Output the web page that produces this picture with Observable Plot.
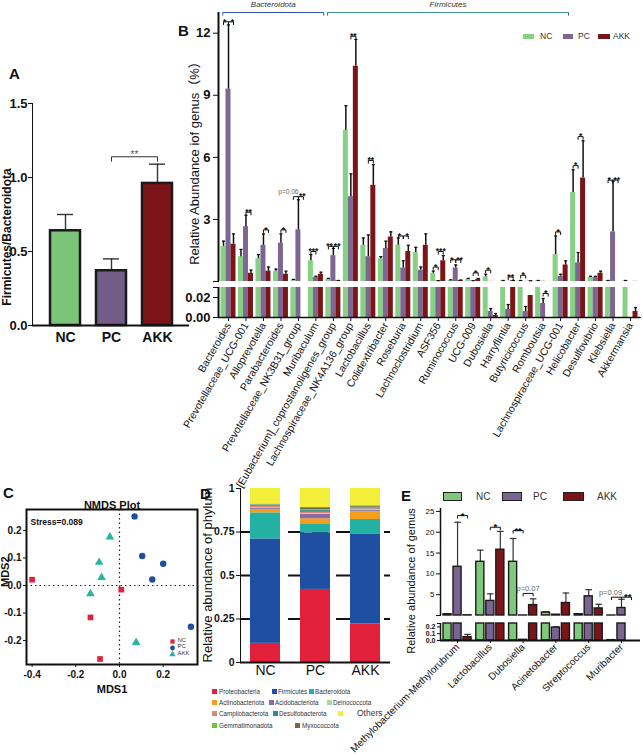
<!DOCTYPE html>
<html>
<head>
<meta charset="utf-8">
<script src="https://cdn.jsdelivr.net/npm/d3@7"></script>
<script src="https://cdn.jsdelivr.net/npm/@observablehq/plot@0.6"></script>
<style>
html,body{margin:0;padding:0;background:#fff;}
#root{position:relative;width:643px;height:755px;overflow:hidden;background:#fff;font-family:"Liberation Sans",Arial,Helvetica,sans-serif;color:#111;}
.t{position:absolute;white-space:nowrap;line-height:1;}
.rot{position:absolute;white-space:nowrap;line-height:1;transform:translate(-50%,-50%) rotate(-90deg);}
.sw{position:absolute;}
</style>
</head>
<body>
<div id="root"></div>
<script>
// ================= DATA =================
const groups = ["NC", "PC", "AKK"];

// Panel A: Firmicutes/Bacteroidota ratio
const ratioMean = [0.64, 0.37, 0.96];
const ratioErrTop = [0.75, 0.45, 1.09];
const ratioSig = [{a: "PC", b: "AKK", y: 1.14, label: "**"}];

// Panel B: genus abundance (%)
const genera = ["Bacteroides", "Prevotellaceae_UCG-001", "Alloprevotella", "Parabacteroides",
  "Prevotellaceae_NK3B31_group", "Muribaculum", "[Eubacterium]_coprostanoligenes_group",
  "Lachnospiraceae_NK4A136_group", "Lactobacillus", "Colidextribacter", "Roseburia",
  "Lachnoclostridium", "ASF356", "Ruminococcus", "UCG-009", "Dubosiella", "Harryflintia",
  "Butyricicoccus", "Romboutsia", "Lachnospiraceae_UCG-001", "Helicobacter", "Desulfovibrio",
  "Klebsiella", "Akkermansia"];
const bNC     = [1.7, 1.2, 1.1, 0.5, 0.08, 1.0, 0.1, 7.3, 1.75, 1.1, 1.75, 1.4, 0.4, 0.06, 0.12, 0.22, 0.04, 0.04, 0.04, 1.3, 4.3, 0.2, 0.04, 0.04];
const bNCErr  = [1.95, 1.55, 1.3, 0.6, 0.1, 1.3, 0.15, 8.5, 2.1, 1.2, 2.1, 1.65, 0.5, 0.08, 0.15, 0.35, 0.05, 0.05, 0.05, 2.2, 5.4, 0.25, 0.05, 0.05];
const bPC     = [9.3, 2.65, 1.75, 1.85, 2.5, 0.2, 1.25, 4.1, 1.2, 1.6, 0.65, 0.55, 0.03, 0.65, 0.03, 0.006, 0.008, 0.006, 0.014, 0.25, 0.9, 0.2, 2.4, 0];
const bPCErr  = [12.4, 3.2, 2.3, 2.3, 3.95, 0.25, 1.6, 5.2, 2.25, 1.95, 1.0, 0.7, 0.04, 0.8, 0.04, 0.009, 0.013, 0.011, 0.019, 0.35, 1.4, 0.25, 4.85, 0];
const bAKK    = [1.8, 0.4, 0.5, 0.35, 0, 0.35, 0.03, 10.4, 4.65, 2.15, 1.45, 1.75, 1.0, 0.05, 0.1, 0.002, 0.04, 0.022, 0, 0.8, 5.0, 0.4, 0, 0.006];
const bAKKErr = [2.3, 0.55, 0.7, 0.5, 0, 0.45, 0.05, 11.7, 5.65, 2.4, 1.75, 2.3, 1.25, 0.07, 0.15, 0.004, 0.05, 0.035, 0, 1.0, 6.8, 0.5, 0, 0.01];
const bPhyla = [
  {name: "Bacteroidota", first: "Bacteroides", last: "Muribaculum"},
  {name: "Firmicutes", first: "[Eubacterium]_coprostanoligenes_group", last: "Lachnospiraceae_UCG-001"}
];
const bSig = [
  {cat: "Bacteroides", a: "NC", b: "PC", y: 12.55, label: "*"},
  {cat: "Bacteroides", a: "PC", b: "AKK", y: 12.55, label: "*"},
  {cat: "Prevotellaceae_UCG-001", a: "PC", b: "AKK", y: 3.35, label: "**"},
  {cat: "Alloprevotella", a: "PC", b: "AKK", y: 2.5, label: "*"},
  {cat: "Parabacteroides", a: "PC", b: "AKK", y: 2.5, label: "*"},
  {cat: "Prevotellaceae_NK3B31_group", a: "NC", b: "PC", y: 4.1, label: "p=0.06"},
  {cat: "Prevotellaceae_NK3B31_group", a: "PC", b: "AKK", y: 4.1, label: "**"},
  {cat: "Muribaculum", a: "NC", b: "PC", y: 1.45, label: "***"},
  {cat: "[Eubacterium]_coprostanoligenes_group", a: "NC", b: "PC", y: 1.7, label: "**"},
  {cat: "[Eubacterium]_coprostanoligenes_group", a: "PC", b: "AKK", y: 1.7, label: "**"},
  {cat: "Lachnospiraceae_NK4A136_group", a: "PC", b: "AKK", y: 11.85, label: "**"},
  {cat: "Lactobacillus", a: "PC", b: "AKK", y: 5.85, label: "**"},
  {cat: "Roseburia", a: "NC", b: "PC", y: 2.2, label: "*"},
  {cat: "Roseburia", a: "PC", b: "AKK", y: 2.2, label: "*"},
  {cat: "ASF356", a: "NC", b: "PC", y: 0.7, label: "*"},
  {cat: "ASF356", a: "PC", b: "AKK", y: 1.45, label: "***"},
  {cat: "Ruminococcus", a: "NC", b: "PC", y: 1.05, label: "*"},
  {cat: "Ruminococcus", a: "PC", b: "AKK", y: 1.05, label: "**"},
  {cat: "UCG-009", a: "PC", b: "AKK", y: 0.42, label: "*"},
  {cat: "Dubosiella", a: "NC", b: "PC", y: 0.55, label: "*"},
  {cat: "Harryflintia", a: "PC", b: "AKK", y: 0.22, label: "**"},
  {cat: "Butyricicoccus", a: "NC", b: "PC", y: 0.3, label: "*"},
  {cat: "Lachnospiraceae_UCG-001", a: "NC", b: "PC", y: 2.4, label: "*"},
  {cat: "Helicobacter", a: "NC", b: "PC", y: 5.6, label: "*"},
  {cat: "Helicobacter", a: "PC", b: "AKK", y: 7.0, label: "*"},
  {cat: "Klebsiella", a: "NC", b: "PC", y: 4.9, label: "*"},
  {cat: "Klebsiella", a: "PC", b: "AKK", y: 4.9, label: "**"}
];
const bSigLow = [{cat: "Romboutsia", a: "PC", b: "AKK", y: 0.024, label: "*"}];

// Panel C: NMDS coordinates [MDS1, MDS2]
const nmdsNC  = [[-0.40, 0.021], [0.008, -0.015], [-0.133, -0.116], [-0.089, -0.267]];
const nmdsPC  = [[0.069, 0.251], [0.104, 0.107], [0.20, 0.079], [0.15, 0.022], [0.327, -0.150]];
const nmdsAKK = [[-0.044, 0.176], [-0.093, 0.084], [-0.082, 0.029], [-0.133, -0.030], [0.076, -0.207]];
const stressText = "Stress=0.089";

// Panel D: phylum composition
const phyla = ["Proteobacteria", "Firmicutes", "Bacteroidota", "Actinobacteriota", "Acidobacteriota",
  "Deinococcota", "Campilobacterota", "Desulfobacterota", "Gemmatimonadota", "Myxococcota", "Others"];
const phylumNC  = [0.11, 0.60, 0.15, 0.02, 0.005, 0.003, 0.01, 0.006, 0.003, 0.003, 0.09];
const phylumPC  = [0.42, 0.325, 0.048, 0.033, 0.025, 0.004, 0.008, 0.01, 0.005, 0.012, 0.11];
const phylumAKK = [0.222, 0.517, 0.083, 0.045, 0.006, 0.004, 0.006, 0.006, 0.003, 0.008, 0.10];

// Panel E: selected genera
const eGenera = ["Methylobacterium-Methylorubrum", "Lactobacillus", "Dubosiella", "Acinetobacter", "Streptococcus", "Muribacter"];
const eNC     = [0.3, 12.9, 12.9, 0.7, 0.3, 0.005];
const eNCErr  = [0.35, 15.7, 18.5, 0.9, 0.35, 0.006];
const ePC     = [11.7, 3.5, 0.01, 0.19, 4.6, 1.8];
const ePCErr  = [22.4, 5.2, 0.012, 0.2, 6.2, 3.9];
const eAKK    = [0.05, 15.8, 2.5, 3.0, 1.7, 0];
const eAKKErr = [0.09, 20.2, 4.0, 5.4, 2.7, 0];
const eSig = [
  {cat: "Methylobacterium-Methylorubrum", a: "PC", b: "AKK", y: 24.0, label: "*"},
  {cat: "Lactobacillus", a: "PC", b: "AKK", y: 21.2, label: "*"},
  {cat: "Dubosiella", a: "NC", b: "PC", y: 20.4, label: "**"},
  {cat: "Dubosiella", a: "PC", b: "AKK", y: 5.3, label: "p=0.07"},
  {cat: "Muribacter", a: "NC", b: "PC", y: 4.4, label: "p=0.09"},
  {cat: "Muribacter", a: "PC", b: "AKK", y: 4.4, label: "**"}
];

// ================= STYLE =================
const FONT = '"Liberation Sans", Arial, Helvetica, sans-serif';
const COL_A = ["#7cc47a", "#745c88", "#7b1419"];
const COL_B = ["#86d183", "#7d6792", "#7a1518"];
const COL_E = ["#80c97c", "#7a6590", "#7b1519"];
const COL_NMDS = ["#e0213a", "#1f4e9e", "#27b4a0"];
const COL_PHYLA = ["#e3203a", "#1f4fa3", "#22b1a2", "#f59d1c", "#8c6aa3", "#a8d89c", "#d8877a", "#2a8c8c", "#74c044", "#6e6a4e", "#f3ee38"];
const base = {background: "transparent", overflow: "visible", fontFamily: FONT, color: "#111"};

const root = document.getElementById("root");
function place(node, left, top, w) {
  const d = document.createElement("div");
  d.style.position = "absolute"; d.style.left = left + "px"; d.style.top = top + "px";
  if (w) d.style.width = w + "px";
  d.appendChild(node); root.appendChild(d); return d;
}
function txt(text, left, top, css) {
  const d = document.createElement("div");
  d.className = "t"; d.textContent = text;
  d.style.cssText = `left:${left}px;top:${top}px;` + (css || "");
  root.appendChild(d); return d;
}
function vtxt(text, cx, cy, css) {
  const d = document.createElement("div");
  d.className = "rot"; d.textContent = text;
  d.style.cssText = `left:${cx}px;top:${cy}px;` + (css || "");
  root.appendChild(d); return d;
}
function swatch(left, top, w, h, color, css) {
  const d = document.createElement("div");
  d.className = "sw";
  d.style.cssText = `left:${left}px;top:${top}px;width:${w}px;height:${h}px;background:${color};` + (css || "");
  root.appendChild(d); return d;
}

// significance brackets for linear-x panels
function sigMarks(list, pos, tick, o) {
  const s = list.map(d => {
    const sib = list.some(q => q !== d && q.cat === d.cat && q.y === d.y);
    const p = d.label.startsWith("p");
    return {x1: pos(d.cat, d.a), x2: pos(d.cat, d.b), y: d.y, label: d.label, p,
      shift: sib ? (p ? o.pSib : (d.a === "NC" ? -1.3 : 1.3)) : 0};
  });
  return [
    Plot.link(s, {x1: "x1", x2: "x2", y1: "y", y2: "y", stroke: "#111", strokeWidth: 1}),
    Plot.link(s, {x1: "x1", x2: "x1", y1: "y", y2: d => d.y - tick, stroke: "#111", strokeWidth: 1}),
    Plot.link(s, {x1: "x2", x2: "x2", y1: "y", y2: d => d.y - tick, stroke: "#111", strokeWidth: 1}),
    ...s.map(d => d.p
      ? Plot.text([d], {x: o.pAnchor === "end" ? "x2" : (q => (q.x1 + q.x2) / 2), y: "y", text: "label", dy: -5, dx: d.shift, textAnchor: o.pAnchor, fontSize: o.p, fill: "#666"})
      : Plot.text([d], {x: q => (q.x1 + q.x2) / 2, y: "y", text: "label", dy: 0, dx: d.shift, fontSize: o.star, fontWeight: "bold", fill: "#111"}))
  ];
}

// ================= PANEL A =================
const aRows = groups.map((g, k) => ({g, v: ratioMean[k], e: ratioErrTop[k]}));
const aBr = ratioSig.flatMap((d, k) => [
  {k, x: d.a, y: d.y - 0.03}, {k, x: d.a, y: d.y}, {k, x: d.b, y: d.y}, {k, x: d.b, y: d.y - 0.03}
]);
const plotA = Plot.plot({
  width: 192, height: 262, marginLeft: 32, marginRight: 3, marginTop: 13, marginBottom: 27,
  style: {...base, fontSize: "14px", fontWeight: "bold"},
  x: {domain: groups, paddingInner: 0.355, paddingOuter: 0.366, label: null, tickSize: 0, tickPadding: 7},
  y: {domain: [0, 1.5], ticks: [0, 0.5, 1, 1.5], tickFormat: () => "", tickSize: 4, line: true, label: null},
  color: {domain: groups, range: COL_A},
  marks: [
    Plot.ruleX(aRows, {x: "g", y1: "v", y2: "e", stroke: "#333", strokeWidth: 1.4}),
    Plot.tickY(aRows, {x: "g", y: "e", stroke: "#333", strokeWidth: 1.4, insetLeft: 7, insetRight: 7}),
    Plot.barY(aRows, {x: "g", y: "v", fill: "g", stroke: "#1b1b1b", strokeWidth: 2.5}),
    Plot.ruleY([0], {stroke: "#111", strokeWidth: 2}),
    Plot.text([0, 0.5, 1, 1.5], {y: d => d, text: d => d.toFixed(1), frameAnchor: "left", dx: -5, textAnchor: "end", fontSize: 13, fontWeight: "bold"}),
    Plot.line(aBr, {x: "x", y: "y", z: "k", stroke: "#333", strokeWidth: 1}),
    Plot.text(ratioSig, {x: "a", y: "y", text: "label", dx: 23, dy: -2, fontSize: 10, fill: "#555", fontWeight: "normal"})
  ]
});
place(plotA, 0, 90, 195);
txt("A", 9, 66, "font-size:15px;font-weight:bold;");
vtxt("Firmicutes/Bacteroidota", 7, 237, "font-size:12px;font-weight:bold;");

// ================= PANEL B =================
const OFF_B = {NC: -0.286, PC: 0, AKK: 0.286};
const HALF_B = 0.143;
const bVals = {NC: bNC, PC: bPC, AKK: bAKK};
const bErrs = {NC: bNCErr, PC: bPCErr, AKK: bAKKErr};
const bRows = genera.flatMap((c, i) => groups.map(g => ({cat: c, i, g, v: bVals[g][i], e: bErrs[g][i], x: i + OFF_B[g]})));
const posB = (cat, g) => genera.indexOf(cat) + OFF_B[g];
const B_X = [-0.572, 23.57];
const B_LOW = 0.03, B_TOP = 13;
const bPhy = bPhyla.map(p => ({name: p.name, x1: genera.indexOf(p.first) - 0.33, x2: genera.indexOf(p.last) + 0.45}));

const plotBTop = Plot.plot({
  width: 493, height: 281, marginLeft: 68, marginRight: 3, marginTop: 12, marginBottom: 0,
  style: {...base, fontSize: "11px"},
  x: {domain: B_X, axis: null},
  y: {domain: [0, B_TOP], ticks: [0, 3, 6, 9, 12], tickFormat: () => "", tickSize: 5, line: true, label: null},
  color: {domain: groups, range: COL_B},
  marks: [
    Plot.rectY(bRows.filter(d => d.v > 0), {x1: d => d.x - HALF_B, x2: d => d.x + HALF_B, y1: () => 0, y2: "v", fill: "g"}),
    Plot.ruleX(bRows.filter(d => d.e > d.v && d.e >= B_LOW), {x: "x", y1: "v", y2: "e", stroke: "#111", strokeWidth: 1.5}),
    Plot.link(bRows.filter(d => d.e > 0 && d.e >= B_LOW), {x1: d => d.x - 0.09, x2: d => d.x + 0.09, y1: "e", y2: "e", stroke: "#111", strokeWidth: 1.2}),
    Plot.ruleX([B_X[0]], {y1: 0, y2: B_TOP, stroke: "#111", strokeWidth: 2}),
    Plot.text([3, 6, 9, 12], {y: d => d, text: d => String(d), frameAnchor: "left", dx: -8, textAnchor: "end", fontSize: 13, fontWeight: "bold"}),
    Plot.link(bPhy.slice(0, 1), {x1: "x1", x2: "x2", y1: () => B_TOP, y2: () => B_TOP, stroke: "#3555b0", strokeWidth: 1.2}),
    Plot.link(bPhy.slice(1), {x1: "x1", x2: "x2", y1: () => B_TOP, y2: () => B_TOP, stroke: "#3f8f98", strokeWidth: 1.2}),
    Plot.link(bPhy, {x1: "x1", x2: "x1", y1: () => B_TOP, y2: () => B_TOP - 0.15, stroke: "#3555b0"}),
    Plot.link(bPhy, {x1: "x2", x2: "x2", y1: () => B_TOP, y2: () => B_TOP - 0.15, stroke: "#3555b0"}),
    Plot.text(bPhy, {x: d => (d.x1 + d.x2) / 2, y: () => B_TOP, text: "name", dy: -8, fontStyle: "italic", fontSize: 8, fill: "#333"}),
    ...sigMarks(bSig, posB, 0.15, {star: 8.5, p: 6.5, pAnchor: "end", pSib: 0})
  ]
});
place(plotBTop, 150, 0, 493);

const plotBBot = Plot.plot({
  width: 493, height: 224, marginLeft: 68, marginRight: 3, marginTop: 4, marginBottom: 190,
  style: {...base, fontSize: "10.5px"},
  x: {domain: B_X, ticks: d3.range(genera.length), tickFormat: i => genera[i], tickRotate: -60, tickSize: 4, tickPadding: 2, line: true, label: null},
  y: {domain: [0, B_LOW], clamp: true, ticks: [0, 0.02, B_LOW], tickFormat: () => "", tickSize: 5, line: true, label: null},
  color: {domain: groups, range: COL_B},
  marks: [
    Plot.rectY(bRows.filter(d => d.v > 0), {x1: d => d.x - HALF_B, x2: d => d.x + HALF_B, y1: () => 0, y2: "v", fill: "g"}),
    Plot.ruleX(bRows.filter(d => d.e > d.v && d.e < B_LOW), {x: "x", y1: "v", y2: "e", stroke: "#111", strokeWidth: 1.5}),
    Plot.link(bRows.filter(d => d.e > 0 && d.e < B_LOW), {x1: d => d.x - 0.09, x2: d => d.x + 0.09, y1: "e", y2: "e", stroke: "#111", strokeWidth: 1.2}),
    Plot.ruleX([B_X[0]], {y1: 0, y2: B_LOW, stroke: "#111", strokeWidth: 2}),
    Plot.ruleY([0], {stroke: "#111", strokeWidth: 1.5}),
    Plot.text([0, 0.02], {y: d => d, text: d => d.toFixed(2), frameAnchor: "left", dx: -8, textAnchor: "end", fontSize: 13, fontWeight: "bold"}),
    ...sigMarks(bSigLow, posB, 0.003, {star: 9, p: 6.5, pAnchor: "middle", pSib: 0})
  ]
});
place(plotBBot, 150, 283, 493);
txt("B", 178, 23, "font-size:15px;font-weight:bold;");
vtxt("Relative Abundance iof genus（%）", 194, 160, "font-size:13px;font-family:'Liberation Sans',Arial,'Noto Sans CJK SC',sans-serif;");
// legend B
swatch(523, 34, 11, 5, COL_B[0]); txt("NC", 540, 32, "font-size:8.5px;color:#333;");
swatch(563, 34, 10, 5, COL_B[1]); txt("PC", 578, 32, "font-size:8.5px;color:#333;");
swatch(598, 34, 12, 5, COL_B[2]); txt("AKK", 613, 32, "font-size:8.5px;color:#333;");

// ================= PANEL C =================
const cRows = [
  ...nmdsNC.map(p => ({g: "NC", x: p[0], y: p[1]})),
  ...nmdsPC.map(p => ({g: "PC", x: p[0], y: p[1]})),
  ...nmdsAKK.map(p => ({g: "AKK", x: p[0], y: p[1]}))
];
const C_LEG_DY = [-23, -16.5, -10];
const plotC = Plot.plot({
  width: 200, height: 210, marginLeft: 26, marginRight: 3, marginTop: 19, marginBottom: 36,
  style: {...base, fontSize: "10px", fontWeight: "bold"},
  x: {domain: [-0.4256, 0.357], ticks: [-0.4, -0.2, 0, 0.2], tickFormat: d => d.toFixed(1), tickSize: 3, tickPadding: 3, label: null},
  y: {domain: [-0.287, 0.276], ticks: [-0.2, -0.1, 0, 0.1, 0.2], tickFormat: d => d.toFixed(1), tickSize: 3, tickPadding: 2, label: null},
  color: {domain: groups, range: COL_NMDS},
  symbol: {domain: groups, range: ["square", "circle", "triangle"]},
  marks: [
    Plot.ruleX([0], {stroke: "#222", strokeDasharray: "1.5,3", strokeWidth: 1.2}),
    Plot.ruleY([0], {stroke: "#222", strokeDasharray: "1.5,3", strokeWidth: 1.2}),
    Plot.frame({stroke: "#111", strokeWidth: 2}),
    Plot.dot(cRows, {x: "x", y: "y", symbol: "g", fill: "g", r: 3.2}),
    Plot.text([stressText], {frameAnchor: "top-left", dx: 4, dy: 9, textAnchor: "start", fontSize: 8.5, fontWeight: "bold"}),
    Plot.text(["NMDS Plot"], {frameAnchor: "top", dy: -8, fontSize: 11, fontWeight: "bold"}),
    Plot.text(["MDS1"], {frameAnchor: "bottom", dy: 28, fontSize: 11, fontWeight: "bold"}),
    Plot.text(["MDS2"], {frameAnchor: "left", dx: -21, rotate: -90, fontSize: 11, fontWeight: "bold"}),
    ...groups.map((g, k) => Plot.dot([g], {frameAnchor: "bottom-right", dx: -25, dy: C_LEG_DY[k], symbol: d => d, fill: d => d, r: 2.4})),
    ...groups.map((g, k) => Plot.text([g], {frameAnchor: "bottom-right", dx: -20, dy: C_LEG_DY[k], textAnchor: "start", text: d => d, fontSize: 6, fontWeight: "normal", fill: "#333"}))
  ]
});
place(plotC, 0, 490, 200);
txt("C", 3, 485, "font-size:15px;font-weight:bold;");

// ================= PANEL D =================
const dVals = {NC: phylumNC, PC: phylumPC, AKK: phylumAKK};
const dRows = groups.flatMap(g => phyla.map((p, k) => ({g, p, v: dVals[g][k]})));
const plotD = Plot.plot({
  width: 185, height: 207, marginLeft: 35, marginRight: 0, marginTop: 8, marginBottom: 25,
  style: {...base, fontSize: "14px"},
  x: {domain: groups, paddingInner: 0.4, paddingOuter: 0.2, label: null, tickSize: 0, tickPadding: 3},
  y: {domain: [0, 1], ticks: [0, 0.25, 0.5, 0.75, 1], tickFormat: () => "", tickSize: 4, line: true, label: null},
  color: {domain: phyla, range: COL_PHYLA},
  marks: [
    Plot.ruleY([0.25, 0.5, 0.75], {stroke: "#111", strokeWidth: 2, strokeDasharray: "16,8"}),
    Plot.barY(dRows, {x: "g", y: "v", fill: "p"}),
    Plot.ruleY([0], {stroke: "#111", strokeWidth: 2}),
    Plot.text([0, 0.25, 0.5, 0.75, 1], {y: d => d, text: d => String(d), frameAnchor: "left", dx: -6, textAnchor: "end", fontSize: 10.5, fontWeight: "bold"})
  ]
});
place(plotD, 205, 480, 185);
txt("D", 200, 486, "font-size:15px;font-weight:bold;");
vtxt("Relative abundance of phylum", 207, 575, "font-size:13px;");
// legend D
const dLegend = [[0, 212, 689, 219], [1, 272, 689, 278], [2, 309, 689, 315],
  [3, 212, 700, 219], [4, 269, 700, 275], [5, 327, 700, 333],
  [6, 212, 711, 219], [7, 273, 711, 279], [10, 338, 711, null],
  [8, 212, 723, 219], [9, 295, 723, 302]];
dLegend.forEach(([k, sx, sy, tx]) => {
  swatch(sx, sy, 5, 5, COL_PHYLA[k]);
  if (tx !== null) txt(phyla[k], tx, sy - 0.5, "font-size:6.3px;color:#333;");
});
txt(phyla[10], 357, 709, "font-size:8.5px;color:#333;");

// ================= PANEL E =================
const OFF_E = {NC: -0.305, PC: 0, AKK: 0.305};
const HALF_E = 0.123;
const eVals = {NC: eNC, PC: ePC, AKK: eAKK};
const eErrs = {NC: eNCErr, PC: ePCErr, AKK: eAKKErr};
const eRows = eGenera.flatMap((c, i) => groups.map(g => ({cat: c, i, g, v: eVals[g][i], e: eErrs[g][i], x: i + OFF_E[g]})));
const posE = (cat, g) => eGenera.indexOf(cat) + OFF_E[g];
const E_X = [-0.52, 5.58];
const E_LOW = 0.25, E_TOP = 25.7;

const plotETop = Plot.plot({
  width: 248, height: 110, marginLeft: 45, marginRight: 3, marginTop: 3, marginBottom: 0,
  style: {...base, fontSize: "8px"},
  x: {domain: E_X, axis: null},
  y: {domain: [0, E_TOP], ticks: [0, 5, 10, 15, 20, 25], tickFormat: () => "", tickSize: 4, line: true, label: null},
  color: {domain: groups, range: COL_E},
  marks: [
    Plot.ruleX(eRows.filter(d => d.e > d.v && d.e >= E_LOW), {x: "x", y1: "v", y2: "e", stroke: "#333", strokeWidth: 1.2}),
    Plot.link(eRows.filter(d => d.e >= E_LOW), {x1: d => d.x - 0.1, x2: d => d.x + 0.1, y1: "e", y2: "e", stroke: "#333", strokeWidth: 1.2}),
    Plot.rectY(eRows.filter(d => d.v > 0), {x1: d => d.x - HALF_E, x2: d => d.x + HALF_E, y1: () => 0, y2: "v", fill: "g", stroke: "#1a1a1a", strokeWidth: 1.4}),
    Plot.ruleX([E_X[0]], {y1: 0, y2: E_TOP, stroke: "#111", strokeWidth: 1.5}),
    Plot.text([5, 10, 15, 20, 25], {y: d => d, text: d => String(d), frameAnchor: "left", dx: -6, textAnchor: "end", fontSize: 8}),
    ...sigMarks(eSig, posE, 0.7, {star: 9.5, p: 7.5, pAnchor: "middle", pSib: -6})
  ]
});
place(plotETop, 395, 505, 248);

const plotEBot = Plot.plot({
  width: 343, height: 140, marginLeft: 140, marginRight: 3, marginTop: 3, marginBottom: 120,
  style: {...base, fontSize: "10px"},
  x: {domain: E_X, ticks: d3.range(eGenera.length), tickFormat: i => eGenera[i], tickRotate: -45, tickSize: 3, tickPadding: 2, label: null},
  y: {domain: [0, E_LOW], clamp: true, ticks: [0, 0.1, 0.2, E_LOW], tickFormat: () => "", tickSize: 3, line: true, label: null},
  color: {domain: groups, range: COL_E},
  marks: [
    Plot.ruleX(eRows.filter(d => d.e > d.v && d.e < E_LOW), {x: "x", y1: "v", y2: "e", stroke: "#333", strokeWidth: 1.2}),
    Plot.link(eRows.filter(d => d.e > 0 && d.e < E_LOW), {x1: d => d.x - 0.1, x2: d => d.x + 0.1, y1: "e", y2: "e", stroke: "#333", strokeWidth: 1.2}),
    Plot.rectY(eRows.filter(d => d.v > 0), {x1: d => d.x - HALF_E, x2: d => d.x + HALF_E, y1: () => 0, y2: "v", fill: "g", stroke: "#1a1a1a", strokeWidth: 1.4}),
    Plot.ruleX([E_X[0]], {y1: 0, y2: E_LOW, stroke: "#111", strokeWidth: 1.5}),
    Plot.ruleY([0], {stroke: "#111", strokeWidth: 2}),
    Plot.text([0, 0.1, 0.2], {y: d => d, text: d => d.toFixed(1), frameAnchor: "left", dx: -5, textAnchor: "end", fontSize: 7, fontWeight: "bold"})
  ]
});
place(plotEBot, 300, 620, 343);
txt("E", 401, 488, "font-size:15px;font-weight:bold;");
vtxt("Relative abundance of gemus", 411, 581, "font-size:11px;");
swatch(443, 492, 17, 7, COL_E[0], "border:1.5px solid #222;"); txt("NC", 476, 492, "font-size:10px;color:#333;");
swatch(502, 492, 18, 7, COL_E[1], "border:1.5px solid #222;"); txt("PC", 533, 492, "font-size:10px;color:#333;");
swatch(563, 492, 19, 7, COL_E[2], "border:1.5px solid #222;"); txt("AKK", 597, 492, "font-size:10px;color:#333;");
</script>
</body>
</html>
